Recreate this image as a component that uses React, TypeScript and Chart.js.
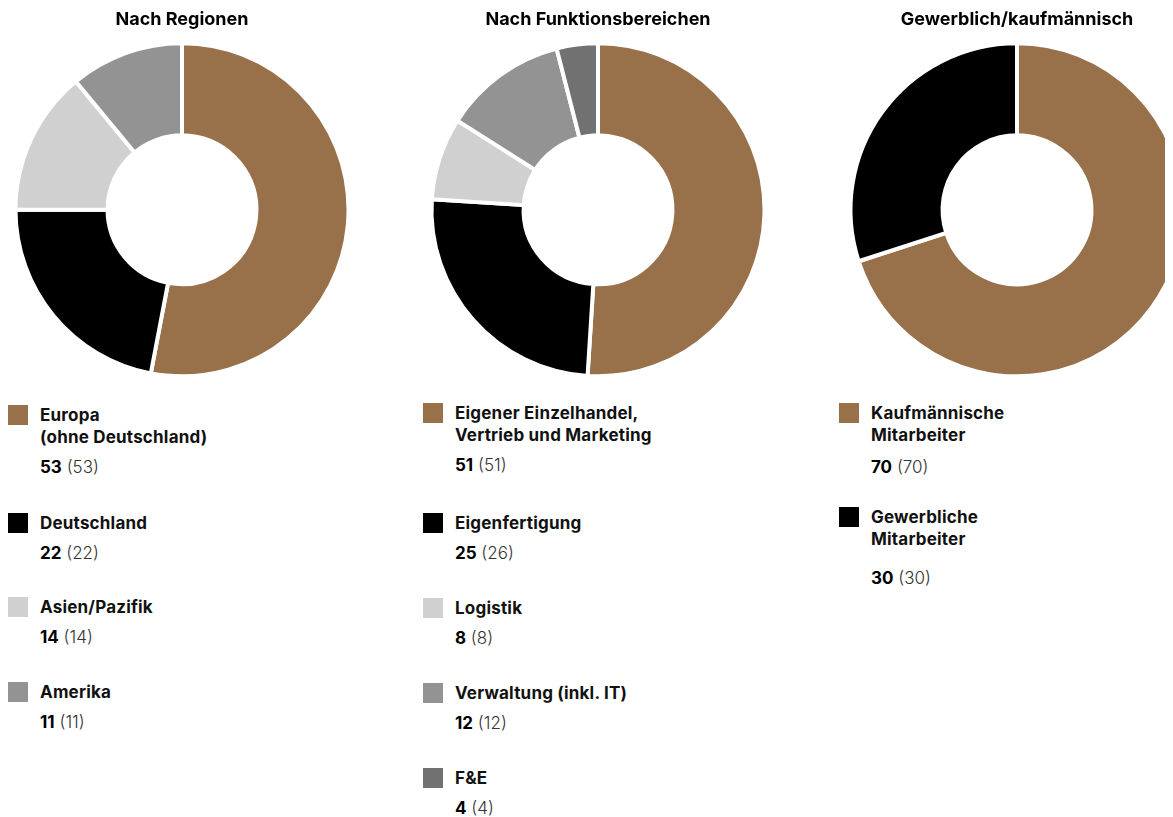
import React, { useEffect, useRef } from "react";
import { Chart, registerables } from "chart.js";

Chart.register(...registerables);

// ---------- DATA ----------
const regionTitle = "Nach Regionen";
const regionLabels = ["Europa\n(ohne Deutschland)", "Deutschland", "Asien/Pazifik", "Amerika"];
const regionValues = [53, 22, 14, 11];
const regionPrev = [53, 22, 14, 11];

const functionTitle = "Nach Funktionsbereichen";
const functionLabels = [
  "Eigener Einzelhandel,\nVertrieb und Marketing",
  "Eigenfertigung",
  "Logistik",
  "Verwaltung (inkl. IT)",
  "F&E",
];
const functionValues = [51, 25, 8, 12, 4];
const functionPrev = [51, 26, 8, 12, 4];

const typeTitle = "Gewerblich/kaufmännisch";
const typeLabels = ["Kaufmännische\nMitarbeiter", "Gewerbliche\nMitarbeiter"];
const typeValues = [70, 30];
const typePrev = [70, 30];

// ---------- STYLE ----------
const BROWN = "#98714A";
const BLACK = "#000000";
const LIGHT = "#D0D0D0";
const MID = "#939393";
const DARK = "#717171";

const regionColors = [BROWN, BLACK, LIGHT, MID];
const functionColors = [BROWN, BLACK, LIGHT, MID, DARK];
const typeColors = [BROWN, BLACK];

const FONT = 'Inter, "Open Sans", Lato, sans-serif';

type Col = {
  title: string;
  labels: string[];
  values: number[];
  prev: number[];
  colors: string[];
  colLeft: number;
  canvasLeft: number;
  legendLeft: number;
  legendTop: number;
  valueGaps: number[];
  itemGaps: number[];
};

const columns: Col[] = [
  {
    title: regionTitle,
    labels: regionLabels,
    values: regionValues,
    prev: regionPrev,
    colors: regionColors,
    colLeft: 0,
    canvasLeft: 0,
    legendLeft: 0,
    legendTop: 396,
    valueGaps: [8, 8, 8, 8],
    itemGaps: [34, 32, 33, 32],
  },
  {
    title: functionTitle,
    labels: functionLabels,
    values: functionValues,
    prev: functionPrev,
    colors: functionColors,
    colLeft: 416,
    canvasLeft: 0,
    legendLeft: -1,
    legendTop: 394,
    valueGaps: [8, 8, 8, 8, 8],
    itemGaps: [36, 33, 33, 33, 33],
  },
  {
    title: typeTitle,
    labels: typeLabels,
    values: typeValues,
    prev: typePrev,
    colors: typeColors,
    colLeft: 832,
    canvasLeft: 3,
    legendLeft: -1,
    legendTop: 394,
    valueGaps: [10, 17],
    itemGaps: [28, 28],
  },
];

function Donut({ col }: { col: Col }) {
  const ref = useRef<HTMLCanvasElement | null>(null);
  useEffect(() => {
    if (!ref.current) return;
    const chart = new Chart(ref.current, {
      type: "doughnut",
      data: {
        labels: col.labels.map((l) => l.replace("\n", " ")),
        datasets: [
          {
            data: col.values,
            backgroundColor: col.colors,
            borderColor: "#ffffff",
            borderWidth: 4,
            hoverOffset: 0,
            clip: false as any,
          },
        ],
      },
      options: {
        responsive: false,
        animation: false,
        radius: 166.5,
        cutout: "44.7%",
        layout: { padding: 0 },
        events: [],
        plugins: {
          legend: { display: false },
          tooltip: { enabled: false },
          title: {
            display: true,
            text: col.title,
            color: "#000",
            font: { family: FONT, size: 18, weight: "bold", lineHeight: 1.2 },
            padding: { top: 1, bottom: 6 },
          },
        },
      } as any,
    });
    return () => chart.destroy();
  }, [col]);
  return (
    <canvas
      ref={ref}
      width={348}
      height={375}
      style={{ position: "absolute", left: col.canvasLeft, top: 0, display: "block" }}
    />
  );
}

function Legend({ col }: { col: Col }) {
  return (
    <div style={{ position: "absolute", left: col.legendLeft, top: col.legendTop, width: 400 }}>
      {col.labels.map((label, i) => (
        <div key={i} style={{ position: "relative", paddingLeft: 32, marginBottom: col.itemGaps[i] }}>
          <div
            style={{
              position: "absolute",
              left: 0,
              top: 1,
              width: 20,
              height: 20,
              background: col.colors[i],
            }}
          />
          <div style={{ fontWeight: 700, whiteSpace: "pre-line", color: "#111", letterSpacing: 0.2 }}>
            {label}
          </div>
          <div style={{ marginTop: col.valueGaps[i] }}>
            <span style={{ fontWeight: 700, color: "#000" }}>{col.values[i]}</span>
            <span style={{ fontWeight: 300, color: "#333" }}> ({col.prev[i]})</span>
          </div>
        </div>
      ))}
    </div>
  );
}

export default function App() {
  return (
    <>
      <style>{"html { overflow: hidden; }"}</style>
      <div
        style={{
          position: "relative",
          width: 1165,
          height: 809,
          overflow: "hidden",
          fontFamily: FONT,
          fontSize: 17,
          lineHeight: "22px",
        }}
      >
        {columns.map((col, i) => (
          <div key={i} style={{ position: "absolute", left: col.colLeft, top: 0, width: 416, height: 809 }}>
            <Donut col={col} />
            <Legend col={col} />
          </div>
        ))}
      </div>
    </>
  );
}
